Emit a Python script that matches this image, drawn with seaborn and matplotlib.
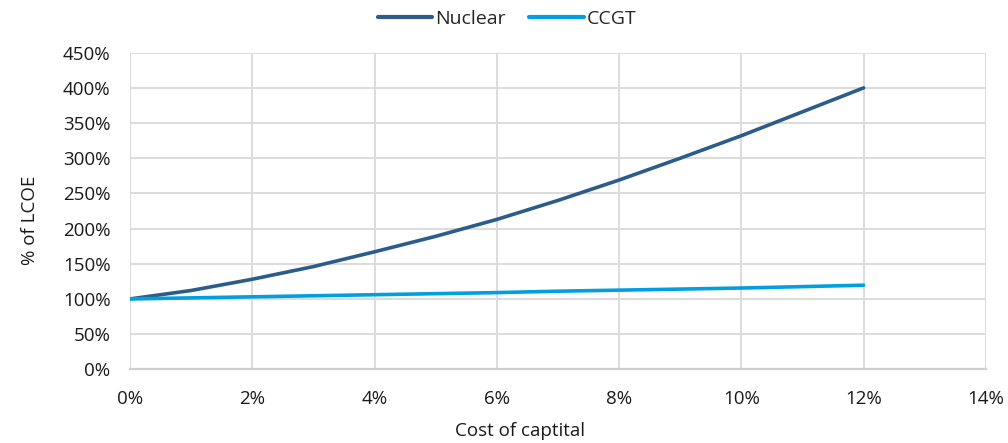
import matplotlib.pyplot as plt
import matplotlib.ticker as mtick
import pandas as pd
import seaborn as sns

# cost of capital (%) and resulting LCOE relative to 0% case (%)
cost_of_capital = [0, 1, 2, 3, 4, 5, 6, 7, 8, 9, 10, 11, 12]
nuclear = [100, 112, 128, 146, 167, 189, 213, 240, 269, 300, 332, 366, 400]
ccgt = [100, 101.5, 103, 104.5, 106, 107.5, 109, 111, 112.5, 114, 115.5, 117.5, 119.5]

df = pd.DataFrame({
    "coc": cost_of_capital * 2,
    "lcoe": nuclear + ccgt,
    "tech": ["Nuclear"] * len(nuclear) + ["CCGT"] * len(ccgt),
})

sns.set_style("white")
plt.rcParams["font.family"] = ["Open Sans", "DejaVu Sans"]

fig = plt.figure(figsize=(10.08, 4.43), dpi=100)
ax = fig.add_axes([0.129, 0.1664, 0.849, 0.7146])

palette = {"Nuclear": "#2b5c8a", "CCGT": "#00a0e0"}
sns.lineplot(data=df, x="coc", y="lcoe", hue="tech", palette=palette,
             linewidth=2.6, ax=ax, legend=False)

ax.set_xlim(0, 14)
ax.set_ylim(0, 450)
ax.set_xticks(range(0, 15, 2))
ax.set_yticks(range(0, 451, 50))
ax.xaxis.set_major_formatter(mtick.FuncFormatter(lambda v, p: f"{v:.0f}%"))
ax.yaxis.set_major_formatter(mtick.FuncFormatter(lambda v, p: f"{v:.0f}%"))
ax.tick_params(axis="both", labelsize=13.5, length=0, colors="#1a1a1a")
ax.tick_params(axis="x", pad=15)
ax.tick_params(axis="y", pad=14)
ax.grid(True, color="#dcdcdc", linewidth=1.4)
ax.set_axisbelow(True)
for s in ["top", "right", "left"]:
    ax.spines[s].set_visible(False)
ax.spines["bottom"].set_color("#cfcfcf")
ax.spines["bottom"].set_linewidth(1.6)

ax.set_xlabel("Cost of captital", fontsize=13.5, color="#1a1a1a")
ax.set_ylabel("% of LCOE", fontsize=13.5, color="#1a1a1a")
ax.xaxis.set_label_coords(0.456, -0.168)
ax.yaxis.set_label_coords(-0.106, 0.47)

handles = [plt.Line2D([], [], color=palette[k], linewidth=3) for k in ["Nuclear", "CCGT"]]
fig.legend(handles, ["Nuclear", "CCGT"], loc="center", bbox_to_anchor=(0.503, 0.958),
           ncol=2, frameon=False, fontsize=14, handlelength=2.8, handletextpad=0.15,
           columnspacing=1.2)

fig.savefig("out.png", dpi=100)
